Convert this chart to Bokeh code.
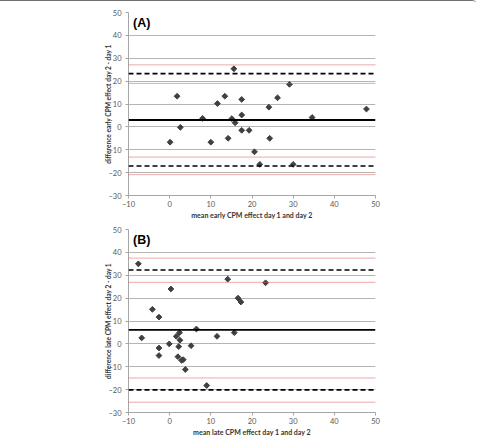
import math
from bokeh.plotting import figure
from bokeh.models import Range1d, Span, Label, FixedTicker
from bokeh.layouts import column
from bokeh.embed import file_html
from bokeh.resources import INLINE

# Panel A: early CPM effect (Bland-Altman)
early_mean = [0.1, 1.8, 2.6, 8.0, 10.0, 11.6, 13.4, 14.2, 15.1, 15.6, 15.9, 17.5,
              17.5, 17.5, 19.3, 20.6, 21.9, 24.1, 24.3, 26.2, 29.1, 30.0, 34.6, 47.8]
early_diff = [-6.7, 13.4, -0.2, 3.7, -6.7, 10.2, 13.4, -5.0, 3.6, 25.4, 1.8, 12.0,
              5.2, -1.5, -1.5, -10.9, -16.4, 8.6, -5.0, 12.7, 18.6, -16.4, 4.1, 7.8]
early_bias = 3.0
early_loa = [23.3, -17.1]
early_ci = [27.1, 19.0, -13.2, -20.9]

# Panel B: late CPM effect (Bland-Altman)
late_mean = [-7.6, -6.8, -4.2, -2.6, -2.6, -2.6, -0.1, 0.3, 1.6, 2.0, 2.4, 2.5,
             2.2, 2.9, 3.3, 3.8, 5.2, 6.5, 9.0, 11.5, 14.1, 15.7, 16.6, 17.3, 23.3]
late_diff = [35.0, 2.6, 15.1, 11.7, -1.8, -5.1, 0.0, 24.0, 3.3, -5.6, 4.9, 1.6,
             -1.2, -7.2, -6.9, -11.2, -0.8, 6.5, -18.2, 3.3, 28.3, 4.9, 20.0, 18.3, 26.7]
late_bias = 6.1
late_loa = [32.3, -20.1]
late_ci = [37.5, 26.9, -14.9, -25.5]

x_ticks = [-10, 0, 10, 20, 30, 40, 50]
y_ticks = [-30, -20, -10, 0, 10, 20, 30, 40, 50]

FONT = "Lato"


def panel(xs, ys, bias, loa, ci, tag, xlabel, ylabel, top):
    p = figure(frame_width=247, frame_height=183, output_backend="svg",
               toolbar_location=None,
               x_range=Range1d(-10, 50), y_range=Range1d(-30, 50),
               min_border_left=128, min_border_right=103, min_border_top=top,
               min_border_bottom=10)
    p.outline_line_color = None
    p.background_fill_color = "white"
    p.border_fill_color = "white"

    p.xaxis.ticker = FixedTicker(ticks=x_ticks)
    p.yaxis.ticker = FixedTicker(ticks=y_ticks)
    p.xgrid.visible = False
    p.ygrid.grid_line_color = "#b4b4b4"
    p.ygrid.grid_line_width = 1

    for ax in (p.xaxis[0], p.yaxis[0]):
        ax.axis_line_color = "#a6a6a6"
        ax.major_tick_line_color = "#a6a6a6"
        ax.major_tick_out = 3
        ax.major_tick_in = 0
        ax.minor_tick_line_color = None
        ax.major_label_text_font = FONT
        ax.major_label_text_font_size = "7.5px"
        ax.major_label_text_color = "#595959"
        ax.axis_label_text_font = FONT
        ax.axis_label_text_font_style = "bold"
        ax.axis_label_text_color = "#333333"
    p.xaxis.axis_label = xlabel
    p.yaxis.axis_label = ylabel
    p.xaxis.axis_label_text_font_size = "7px"
    p.yaxis.axis_label_text_font_size = "6.6px"
    p.xaxis.major_label_standoff = 2
    p.xaxis.axis_label_standoff = 1
    p.yaxis.major_label_standoff = 4
    p.yaxis.axis_label_standoff = -7

    for v in ci:
        p.add_layout(Span(location=v, dimension="width", line_color="#dd5050",
                          line_width=1, line_dash="1 1"))
    for v in loa:
        p.add_layout(Span(location=v, dimension="width", line_color="black",
                          line_width=1.7, line_dash="5 3"))
    p.add_layout(Span(location=bias, dimension="width", line_color="black",
                      line_width=1.8))

    p.scatter(xs, ys, marker="square", angle=math.pi / 4, size=4.1,
              fill_color="#404040", line_color="#404040")

    p.add_layout(Label(x=-8.9, y=45.2, text=tag, text_font="Liberation Sans",
                       text_font_style="bold", text_font_size="12.5px",
                       text_baseline="middle", text_color="black"))
    return p


pa = panel(early_mean, early_diff, early_bias, early_loa, early_ci, "(A)",
           "mean early CPM effect day 1 and day 2",
           "difference early CPM effect day 2 - day 1", 11)
pb = panel(late_mean, late_diff, late_bias, late_loa, late_ci, "(B)",
           "mean late CPM effect day 1 and day 2",
           "difference late CPM effect day 2 - day 1", 8)

layout = column(pa, pb, spacing=0)
layout.styles = {"border-top": "1.5px solid #707070", "border-top-right-radius": "6px"}
open("out.html", "w").write(file_html(layout, INLINE))
